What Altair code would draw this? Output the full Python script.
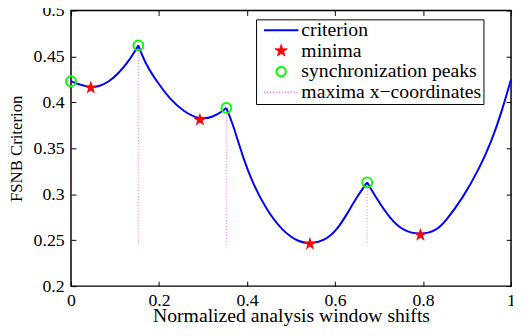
import altair as alt
import pandas as pd

# ---- curve, one list per segment between peaks ----
seg1_x = [0.000, 0.022, 0.045, 0.063, 0.085, 0.107, 0.130, 0.147, 0.153]
seg1_y = [0.423, 0.419, 0.416, 0.4172, 0.422, 0.431, 0.444, 0.457, 0.462]
seg2_x = [0.153, 0.167, 0.197, 0.226, 0.256, 0.293, 0.323, 0.346, 0.353]
seg2_y = [0.462, 0.444, 0.421, 0.403, 0.390, 0.381, 0.384, 0.391, 0.394]
seg3_x = [0.353, 0.368, 0.390, 0.413, 0.443, 0.480, 0.517, 0.543, 0.577, 0.606, 0.629, 0.651, 0.673]
seg3_y = [0.394, 0.3765, 0.341, 0.312, 0.284, 0.260, 0.248, 0.246, 0.2495, 0.262, 0.280, 0.298, 0.313]
seg4_x = [0.673, 0.696, 0.726, 0.755, 0.794, 0.830, 0.852, 0.889, 0.927, 0.956, 0.979, 1.000]
seg4_y = [0.313, 0.294, 0.273, 0.260, 0.2557, 0.260, 0.271, 0.295, 0.327, 0.358, 0.390, 0.425]

min_x = [0.045, 0.293, 0.543, 0.794]
min_y = [0.416, 0.381, 0.246, 0.2557]
peak_x = [0.000, 0.153, 0.353, 0.673]
peak_y = [0.423, 0.462, 0.394, 0.313]
rule_bottom = 0.245

legend_labels = ["criterion", "minima", "synchronization peaks", "maxima x\u2212coordinates"]
x_ticks = [0, 0.2, 0.4, 0.6, 0.8, 1.0]
y_ticks = [0.2, 0.25, 0.3, 0.35, 0.4, 0.45, 0.5]

FONT = "Liberation Serif"
STAR = ("M0,-1L0.2245,-0.309L0.951,-0.309L0.3633,0.118L0.588,0.809L0,0.382"
        "L-0.588,0.809L-0.3633,0.118L-0.951,-0.309L-0.2245,-0.309Z")

segs = [(seg1_x, seg1_y), (seg2_x, seg2_y), (seg3_x, seg3_y), (seg4_x, seg4_y)]
rows = []
for k, (xs_, ys_) in enumerate(segs):
    for xv, yv in zip(xs_, ys_):
        rows.append({"x": xv, "y": yv, "seg": k})
curve_df = pd.DataFrame(rows)
min_df = pd.DataFrame({"x": min_x, "y": min_y})
peak_df = pd.DataFrame({"x": peak_x, "y": peak_y, "yb": [rule_bottom] * len(peak_x)})
leg_df = pd.DataFrame({"series": legend_labels})

xs = alt.Scale(domain=[0, 1], nice=False, zero=False)
ys = alt.Scale(domain=[0.2, 0.5], nice=False, zero=False)

common = dict(offset=-5, tickSize=5, domain=False, grid=False, tickColor="black",
              tickWidth=1, labelFont=FONT, labelColor="black", titleFont=FONT,
              titleColor="black", titleFontWeight="normal")

x_bottom = alt.Axis(orient="bottom", values=x_ticks, format=".1~f", labelFontSize=18,
                    labelPadding=6, labelFlush=False, labelOverlap=False,
                    title="Normalized analysis window shifts", titleFontSize=20,
                    titlePadding=-4, **common)
y_left = alt.Axis(orient="left", values=y_ticks, format=".2~f", labelFontSize=18,
                  labelPadding=7, labelFlush=False, labelOverlap=False,
                  title="FSNB Criterion", titleFontSize=17, titlePadding=8, **common)
x_top = alt.Axis(orient="top", values=x_ticks, labels=False, title=None, **common)
y_right = alt.Axis(orient="right", values=y_ticks, labels=False, title=None, **common)

rules = alt.Chart(peak_df).mark_rule(color="#ff00ff", strokeDash=[1, 2], strokeWidth=1,
                                     opacity=0.6).encode(
    x=alt.X("x:Q", scale=xs, axis=x_top),
    y=alt.Y("y:Q", scale=ys, axis=y_right),
    y2="yb:Q",
)

line = alt.Chart(curve_df).mark_line(color="#0000ff", strokeWidth=2, interpolate="basis").encode(
    x=alt.X("x:Q", scale=xs, axis=x_bottom),
    y=alt.Y("y:Q", scale=ys, axis=y_left),
    detail="seg:N",
)

stars = alt.Chart(min_df).mark_point(shape=STAR, size=210, filled=True, color="#ff0000",
                                     opacity=1).encode(
    x=alt.X("x:Q", scale=xs, axis=None),
    y=alt.Y("y:Q", scale=ys, axis=None),
)

circles = alt.Chart(peak_df).mark_point(shape="circle", size=100, filled=False, color="#00ff00",
                                        strokeWidth=2, opacity=1).encode(
    x=alt.X("x:Q", scale=xs, axis=None),
    y=alt.Y("y:Q", scale=ys, axis=None),
)

leg = alt.Legend(orient="none", legendX=188, legendY=9, title=None, padding=2,
                 labelFont=FONT, labelFontSize=20, labelColor="black", labelLimit=400,
                 strokeColor="black", fillColor="white", cornerRadius=0, clipHeight=18,
                 rowPadding=1, labelOffset=2, symbolOffset=5, direction="vertical")

legend_layer = alt.Chart(leg_df).mark_point(opacity=1).encode(
    fill=alt.Fill("series:N", scale=alt.Scale(domain=legend_labels,
                  range=["transparent", "#ff0000", "transparent", "transparent"]), legend=leg),
    stroke=alt.Stroke("series:N", scale=alt.Scale(domain=legend_labels,
                      range=["#0000ff", "#ff0000", "#00ff00", "#ff00ff"]), legend=leg),
    shape=alt.Shape("series:N", scale=alt.Scale(domain=legend_labels,
                    range=["stroke", STAR, "circle", "stroke"]), legend=leg),
    size=alt.Size("series:N", scale=alt.Scale(type="ordinal", domain=legend_labels,
                  range=[1225, 170, 90, 1225]), legend=leg),
    strokeWidth=alt.StrokeWidth("series:N", scale=alt.Scale(type="ordinal", domain=legend_labels,
                                range=[2, 1, 2, 1]), legend=leg),
    strokeDash=alt.StrokeDash("series:N", scale=alt.Scale(domain=legend_labels,
                              range=[[1, 0], [1, 0], [1, 0], [1, 2]]), legend=leg),
).transform_filter("false")

chart = alt.layer(rules, line, stars, circles, legend_layer).resolve_axis(
    x="independent", y="independent"
).properties(
    width=447, height=280,
    autosize=alt.AutoSizeParams(type="none"),
    padding={"left": 64, "top": 0, "right": 2, "bottom": 40},
    background="white",
).configure_view(stroke="black", strokeWidth=1.5)

chart.save("out.html", embed_options={"renderer": "svg", "actions": False})
